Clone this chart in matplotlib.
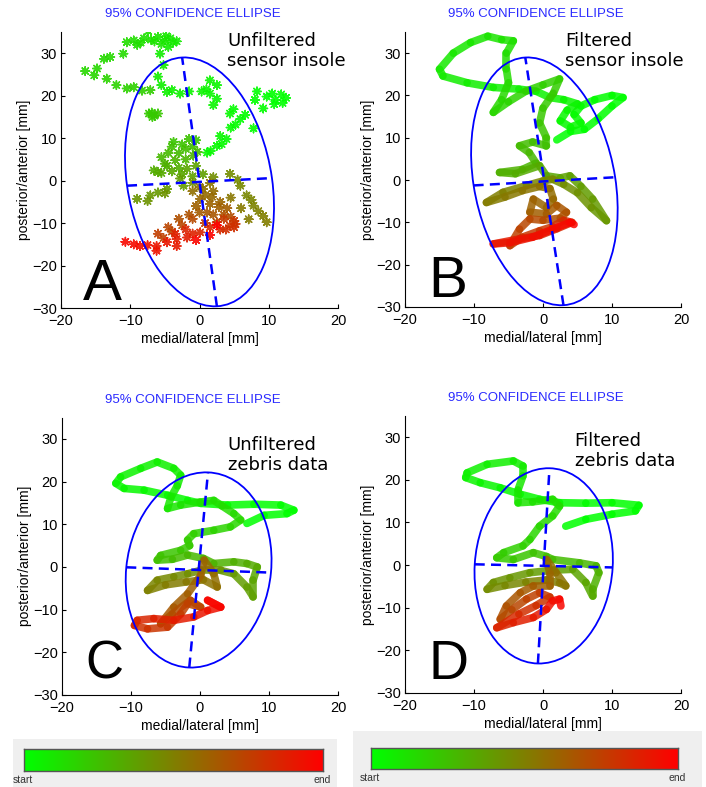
import numpy as np
import matplotlib
matplotlib.use("Agg")
import matplotlib.pyplot as plt
from matplotlib.collections import LineCollection
from matplotlib.colors import LinearSegmentedColormap
from matplotlib.patches import Ellipse

plt.rcParams['font.family'] = ['Liberation Sans', 'DejaVu Sans']

# ---- data (mm), in time order start -> end ----
# A: unfiltered sensor insole (scattered samples)
A_POINTS = [
    (12.5, 19.5), (11.8, 20.3), (11.0, 19.0), (12.0, 18.3), (10.5, 20.5), (9.7, 19.8),
    (10.8, 18.0), (9.2, 17.0), (8.3, 21.0), (8.0, 19.0), (7.8, 12.3), (6.6, 15.5),
    (5.9, 14.5), (4.9, 16.8), (5.2, 13.2), (4.5, 12.5), (3.9, 9.8), (3.2, 8.6),
    (2.5, 8.2), (1.6, 7.0), (1.1, 6.6), (3.0, 10.5), (4.4, 15.8), (2.5, 19.3),
    (2.0, 17.8), (1.5, 20.5), (2.5, 22.5), (1.5, 23.6), (1.0, 21.5), (0.3, 21.0),
    (-1.5, 21.0), (-2.8, 20.5), (-4.0, 21.3), (-4.7, 20.9), (-5.5, 22.5), (-6.0, 24.5),
    (-5.2, 27.2), (-5.7, 29.9), (-4.5, 31.5), (-3.3, 32.8), (-3.8, 32.5), (-4.2, 33.5),
    (-4.8, 34.0), (-5.0, 33.0), (-5.5, 32.2), (-6.0, 33.8), (-6.5, 32.8), (-7.0, 33.2),
    (-7.4, 35.2), (-8.0, 33.5), (-8.5, 32.5), (-9.0, 32.0), (-9.5, 33.0), (-10.5, 32.6),
    (-11.0, 29.9), (-12.9, 29.1), (-13.8, 28.7), (-14.8, 26.4), (-16.5, 25.8), (-15.2, 24.8),
    (-13.4, 24.0), (-12.0, 22.5), (-10.5, 21.7), (-9.5, 22.0), (-8.3, 21.2), (-7.1, 21.3),
    (-6.9, 16.0), (-6.5, 15.3), (-7.3, 15.8), (-6.8, 15.0), (-6.0, 15.8), (-0.5, 9.5),
    (-3.75, 9.1), (-2.5, 8.5), (-1.5, 9.8), (-4.0, 8.0), (-1.0, 8.0), (-2.0, 7.5),
    (-0.3, 6.8), (-3.0, 6.5), (-4.5, 6.5), (-5.5, 5.5), (-2.0, 5.0), (-0.9, 5.9),
    (-3.5, 4.8), (-5.0, 4.0), (-4.7, 3.5), (-3.0, 3.0), (-6.6, 2.4), (-6.0, 2.0),
    (-5.5, 1.8), (-4.0, 2.2), (-2.5, 1.5), (-1.8, 2.8), (-0.5, 3.5), (-1.0, 1.0),
    (0.5, 1.5), (-2.8, 0.5), (-2.3, -1.2), (-4.7, -2.0), (-6.0, -2.8), (-7.1, -3.5),
    (-9.0, -4.3), (-7.5, -4.8), (-5.0, -3.0), (-1.0, -0.5), (2.0, 0.8), (4.4, 1.6),
    (5.5, 0.2), (5.9, -1.2), (6.8, -3.5), (7.5, -4.5), (7.8, -5.9), (8.5, -7.2),
    (9.2, -8.3), (9.7, -9.8), (7.1, -9.1), (6.0, -6.5), (4.5, -4.0), (1.5, -0.5),
    (0.0, -1.5), (0.5, -2.0), (-1.0, -2.5), (2.0, -2.5), (0.8, -3.5), (1.8, -3.8),
    (0.1, -4.3), (3.0, -5.0), (1.5, -5.5), (-0.5, -6.0), (2.8, -6.2), (4.0, -6.5),
    (0.0, -7.5), (1.1, -7.5), (2.0, -8.0), (3.5, -8.0), (-1.5, -8.0), (-3.0, -9.0),
    (4.5, -8.5), (2.5, -9.8), (-1.0, -9.0), (-2.5, -10.5), (-4.5, -11.0), (-4.0, -12.0),
    (-5.2, -13.5), (-6.0, -12.5), (0.8, -10.0), (3.5, -9.0), (5.0, -9.5), (4.4, -10.6),
    (5.2, -10.2), (5.0, -11.0), (3.8, -11.5), (3.0, -11.5), (1.5, -11.0), (0.1, -12.2),
    (-2.0, -11.5), (-1.0, -12.5), (-3.5, -12.5), (-1.8, -13.4), (-3.3, -13.8), (-3.3, -15.4),
    (-4.7, -14.5), (-6.2, -15.4), (-6.2, -16.5), (-7.5, -15.2), (-8.6, -15.4), (-9.5, -15.0),
    (-10.7, -14.4), (-0.5, -14.0), (1.5, -12.8), (2.5, -10.5),
]

# B: filtered sensor insole (trajectory)
B_PATH = [
    (2.0, 9.5), (4.0, 11.5), (6.0, 12.0), (8.0, 14.5), (10.0, 17.5), (11.6, 19.5),
    (10.0, 20.0), (7.5, 19.0), (5.5, 17.5), (4.5, 15.5), (5.5, 13.5), (4.0, 12.5),
    (2.5, 14.0), (3.5, 16.5), (5.0, 18.0), (3.0, 19.0), (1.0, 19.5), (-1.0, 21.0),
    (-3.5, 21.5), (-7.2, 21.9), (-11.0, 23.0), (-14.5, 24.6), (-15.0, 26.2), (-13.0, 30.0),
    (-10.5, 32.5), (-8.0, 34.0), (-6.0, 33.2), (-4.3, 32.9), (-5.3, 30.0), (-5.3, 26.2),
    (-5.0, 23.0), (-6.0, 19.0), (-7.2, 16.0), (-5.0, 18.5), (-2.5, 21.0), (0.0, 22.5),
    (2.4, 23.9), (1.5, 20.5), (0.0, 17.0), (-0.5, 13.5), (0.5, 10.0), (0.5, 8.1),
    (-1.5, 9.0), (-3.4, 8.1), (-2.0, 6.5), (-1.0, 4.0), (-3.0, 2.5), (-6.3, 1.8),
    (-4.0, 1.5), (-0.5, 3.4), (0.5, 1.0), (2.5, 0.5), (3.9, 1.0), (5.5, -1.5),
    (7.2, -4.5), (9.2, -9.6), (7.0, -6.5), (5.0, -3.0), (3.0, -1.0), (1.4, 0.2),
    (0.0, -0.2), (-2.4, -1.3), (-5.8, -2.9), (-8.2, -5.3), (-5.5, -4.0), (-3.0, -2.5),
    (-0.5, -1.5), (1.0, -2.0), (1.5, -4.5), (0.5, -6.5), (-1.4, -4.5), (-1.9, -7.6),
    (0.5, -8.0), (2.0, -6.0), (3.4, -7.6), (2.5, -9.0), (0.0, -9.5), (-1.9, -9.2),
    (-3.4, -11.6), (-4.8, -15.5), (-3.0, -13.5), (-0.5, -12.0), (1.4, -11.0), (3.0, -9.5),
    (4.2, -10.0), (2.0, -11.5), (-0.5, -13.1), (-3.4, -13.9), (-7.2, -15.1), (-4.8, -14.8),
    (-1.5, -13.5), (1.4, -11.6), (3.9, -10.0), (4.5, -10.5),
]

# C: unfiltered zebris data (trajectory)
C_PATH = [
    (6.8, 10.2), (9.3, 12.1), (12.6, 12.5), (13.6, 13.3), (11.7, 14.5), (7.8, 14.7),
    (4.0, 14.5), (0.1, 14.9), (-1.8, 15.6), (-4.7, 16.8), (-8.1, 18.0), (-11.0, 18.4),
    (-12.2, 19.6), (-11.5, 21.1), (-8.6, 23.1), (-6.2, 24.6), (-3.8, 23.1), (-2.8, 21.5),
    (-3.3, 19.0), (-4.2, 16.4), (-4.7, 13.7), (-2.8, 14.5), (0.0, 15.2), (2.0, 15.6),
    (3.2, 14.3), (4.9, 12.5), (5.9, 11.0), (4.4, 9.4), (2.0, 8.6), (-0.9, 7.8),
    (-1.8, 6.3), (-1.5, 5.0), (-2.8, 3.9), (-5.7, 2.7), (-6.2, 1.6), (-4.0, 1.8),
    (-1.8, 2.8), (0.5, 2.0), (2.0, 0.8), (4.9, 1.2), (6.8, 0.8), (8.3, 0.0),
    (7.7, -3.1), (7.7, -7.0), (6.8, -4.7), (4.9, -1.6), (3.0, -0.8), (0.1, -0.8),
    (-1.8, -1.6), (-3.8, -2.3), (-6.2, -3.1), (-7.6, -5.5), (-5.0, -4.2), (-2.0, -3.5),
    (0.5, -3.0), (2.5, -4.7), (2.0, -1.6), (0.6, 1.6), (0.1, -2.0), (-1.8, -6.3),
    (-3.8, -9.4), (-5.7, -13.3), (-4.0, -11.0), (-1.4, -7.8), (0.1, -9.4), (-1.8, -8.6),
    (-2.8, -11.0), (-4.7, -14.1), (-7.6, -14.5), (-9.5, -13.7), (-9.1, -12.5), (-6.7, -12.1),
    (-3.8, -12.5), (-0.9, -11.7), (1.1, -10.2), (3.0, -9.4), (1.1, -7.8), (3.0, -9.4),
]

# D: filtered zebris data (trajectory)
D_PATH = [
    (3.3, 9.1), (6.2, 10.7), (10.0, 11.9), (13.4, 12.7), (13.9, 14.0), (10.0, 14.6),
    (6.2, 14.5), (2.4, 14.6), (-0.5, 15.4), (-3.3, 16.6), (-6.2, 18.1), (-9.1, 19.3),
    (-11.2, 20.5), (-11.0, 21.6), (-8.1, 23.6), (-4.3, 24.4), (-2.9, 23.2), (-2.9, 20.9),
    (-3.6, 17.7), (-3.6, 14.6), (-1.5, 14.8), (1.4, 15.4), (2.4, 13.8), (1.4, 11.5),
    (-0.5, 9.1), (-1.9, 6.0), (-2.9, 4.5), (-5.7, 2.9), (-6.7, 1.7), (-4.3, 1.3),
    (-1.4, 2.9), (0.5, 2.0), (1.4, 1.3), (5.3, 0.5), (7.7, -0.2), (8.1, -1.8),
    (7.2, -5.7), (7.2, -7.3), (6.2, -4.1), (4.3, -1.0), (1.5, -1.2), (-1.9, -1.8),
    (-4.8, -3.0), (-7.2, -4.1), (-8.1, -5.7), (-5.5, -4.8), (-2.5, -4.0), (0.5, -3.5),
    (2.4, -4.2), (3.3, -4.9), (1.9, -1.8), (0.5, 1.3), (1.0, -2.0), (1.0, -4.9),
    (-1.4, -4.9), (-3.3, -6.5), (-5.3, -9.6), (-6.2, -12.7), (-4.5, -10.5), (-2.4, -8.0),
    (-0.5, -6.5), (1.0, -7.5), (-1.0, -9.5), (-3.5, -11.5), (-6.7, -14.7), (-4.3, -13.5),
    (-1.4, -12.3), (0.5, -10.4), (1.4, -8.4), (2.4, -8.0), (2.6, -9.6),
]

# 95% confidence ellipses: centre x, centre y, semi-major, semi-minor, tilt (deg)
ELLIPSES = {
    'A': (0.0, -0.3, 29.4, 10.5, 4.9),
    'B': (0.2, -0.3, 29.4, 10.3, 5.4),
    'C': (-0.2, -0.7, 22.9, 10.5, -3.4),
    'D': (0.1, -0.2, 22.9, 10.0, -2.1),
}
NOTES = {
    'A': "Unfiltered\nsensor insole",
    'B': "Filtered\nsensor insole",
    'C': "Unfiltered\nzebris data",
    'D': "Filtered\nzebris data",
}

cmap = LinearSegmentedColormap.from_list('startend', [(0.0, 1.0, 0.0), (1.0, 0.0, 0.0)])
BLUE = '#0000ff'
TIME_GAMMA = 1.7   # samples are denser late in the recording, so colours shift late

W, H = 706, 787
fig = plt.figure(figsize=(W / 100, H / 100), dpi=100)


def rect(l, b, r, t):
    # pixel box -> figure fraction
    return [l / W, 1 - b / H, (r - l) / W, (b - t) / H]


def draw_panel(box, key, points, filtered, note_xy, letter_xy, letter_size):
    ax = fig.add_axes(rect(*box))
    xs = np.array([p[0] for p in points])
    ys = np.array([p[1] for p in points])
    frac = np.linspace(0, 1, len(xs)) ** TIME_GAMMA
    if filtered:
        pts = np.column_stack([xs, ys]).reshape(-1, 1, 2)
        segs = np.concatenate([pts[:-1], pts[1:]], axis=1)
        lc = LineCollection(segs, colors=cmap(frac[:-1]), linewidths=5.5,
                            capstyle='round', joinstyle='round', alpha=0.85, zorder=2)
        ax.add_collection(lc)
    else:
        ax.scatter(xs, ys, c=frac, cmap=cmap, vmin=0, vmax=1, marker=(8, 2, 0), s=38,
                   linewidths=1.1, alpha=0.9, zorder=2)

    cx, cy, a, b, ang = ELLIPSES[key]
    th = np.deg2rad(ang)
    ax.add_patch(Ellipse((cx, cy), 2 * b, 2 * a, angle=ang, fill=False,
                         ec=BLUE, lw=1.3, zorder=3))
    ax.plot([cx + a * np.sin(th), cx - a * np.sin(th)],
            [cy - a * np.cos(th), cy + a * np.cos(th)],
            color=BLUE, lw=1.8, dashes=(4, 2.5), zorder=3)
    ax.plot([cx - b * np.cos(th), cx + b * np.cos(th)],
            [cy - b * np.sin(th), cy + b * np.sin(th)],
            color=BLUE, lw=1.8, dashes=(4, 2.5), zorder=3)

    ax.set_xlim(-20, 20)
    ax.set_ylim(-30, 35)
    ax.set_xticks([-20, -10, 0, 10, 20])
    ax.set_yticks([-30, -20, -10, 0, 10, 20, 30])
    ax.spines['top'].set_visible(False)
    ax.spines['right'].set_visible(False)
    ax.tick_params(direction='in', length=3, labelsize=10.5)
    ax.tick_params(axis='x', pad=4)
    ax.tick_params(axis='y', pad=3)
    ax.set_xlabel('medial/lateral [mm]', fontsize=10, labelpad=3)
    ax.set_ylabel('posterior/anterior [mm]', fontsize=10, labelpad=1)
    ax.text(0.475, 1.065, '95% CONFIDENCE ELLIPSE', transform=ax.transAxes,
            ha='center', va='center', color='#2a2aff', fontsize=9.5)
    ax.text(note_xy[0], note_xy[1], NOTES[key], transform=ax.transAxes,
            ha='left', va='top', fontsize=13, family='DejaVu Sans', linespacing=1.15)
    ax.text(letter_xy[0], letter_xy[1], key, transform=ax.transAxes,
            ha='left', va='baseline', fontsize=letter_size)
    return ax


draw_panel((61, 308, 338, 32), 'A', A_POINTS, False, (0.60, 1.0), (0.08, 0.03), 42)
draw_panel((405, 307, 681, 32), 'B', B_PATH, True, (0.58, 1.0), (0.085, 0.036), 42)
draw_panel((62, 695, 338, 417.6), 'C', C_PATH, True, (0.60, 0.935), (0.085, 0.06), 38)
draw_panel((405, 693, 681, 415.7), 'D', D_PATH, True, (0.615, 0.94), (0.085, 0.05), 40)

# start -> end colour bars
for bg_box, bar_box, start_x, end_x, lab_y in [
        ((13, 787, 337, 739), (24, 771, 323, 749), 13, 331, 780),
        ((353, 787, 702, 731), (371, 769, 678, 748), 360, 686, 778)]:
    bg = fig.add_axes(rect(*bg_box))
    bg.set_facecolor('#efefef')
    bg.set_xticks([])
    bg.set_yticks([])
    for s in bg.spines.values():
        s.set_visible(False)
    cax = fig.add_axes(rect(*bar_box))
    cax.imshow(np.linspace(0, 1, 256)[None, :], aspect='auto', cmap=cmap)
    cax.set_xticks([])
    cax.set_yticks([])
    for s in cax.spines.values():
        s.set_color('#555555')
        s.set_linewidth(1.0)
    fig.text(start_x / W, 1 - lab_y / H, 'start', fontsize=7.5, color='#333333',
             ha='left', va='center')
    fig.text(end_x / W, 1 - lab_y / H, 'end', fontsize=7.5, color='#333333',
             ha='right', va='center')

fig.savefig('out.png', dpi=100)
